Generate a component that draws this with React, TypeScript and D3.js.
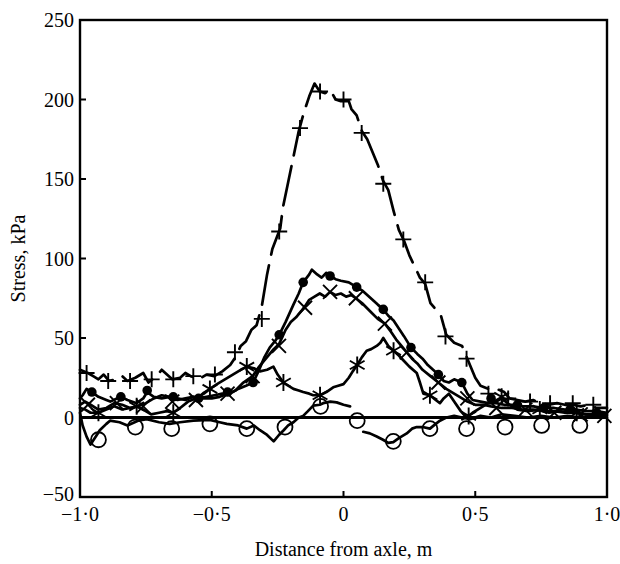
import React from 'react';
import * as d3 from 'd3';

type Pt = [number, number];

// axis ticks
const yTicks = [-50, 0, 50, 100, 150, 200, 250];
const yTickLabels = ['−50', '0', '50', '100', '150', '200', '250'];
const xTicks = [-1, -0.5, 0, 0.5, 1];
const xTickLabels = ['−1·0', '−0·5', '0', '0·5', '1·0'];

// "+" series (dashed trace)
const plusLine: Pt[] = [
  [-1.0, 30], [-0.97, 28], [-0.95, 26], [-0.93, 24], [-0.91, 27], [-0.89, 23], [-0.86, 24], [-0.84, 26],
  [-0.82, 23], [-0.79, 25], [-0.76, 28], [-0.74, 22], [-0.71, 26], [-0.69, 30], [-0.67, 27], [-0.65, 24],
  [-0.62, 25], [-0.6, 28], [-0.58, 26], [-0.55, 24], [-0.52, 27], [-0.49, 26], [-0.46, 29], [-0.43, 33],
  [-0.41, 38], [-0.39, 45], [-0.37, 48], [-0.35, 55], [-0.33, 58], [-0.31, 70], [-0.29, 90], [-0.27, 106],
  [-0.24, 119], [-0.23, 132], [-0.21, 148], [-0.19, 164], [-0.17, 180], [-0.15, 192], [-0.13, 202],
  [-0.11, 210], [-0.09, 205], [-0.07, 204], [-0.05, 206], [-0.03, 200], [-0.01, 199], [0.02, 199],
  [0.03, 194], [0.05, 190], [0.07, 180], [0.09, 175], [0.11, 167], [0.13, 159], [0.15, 149], [0.17, 143],
  [0.19, 130], [0.21, 118], [0.23, 111], [0.25, 102], [0.27, 95], [0.29, 88], [0.31, 84], [0.33, 72],
  [0.35, 68], [0.37, 64], [0.39, 52], [0.42, 47], [0.45, 45], [0.47, 37], [0.5, 25], [0.52, 20],
  [0.55, 18], [0.58, 18], [0.61, 16], [0.63, 12], [0.66, 11], [0.69, 10], [0.72, 11], [0.75, 9],
  [0.78, 8], [0.81, 9], [0.84, 8], [0.87, 8], [0.9, 7], [0.93, 8], [0.96, 6], [1.0, 6],
];
const plusPts: Pt[] = [
  [-0.975, 28], [-0.893, 23], [-0.81, 23], [-0.728, 24], [-0.646, 24], [-0.57, 26], [-0.488, 27],
  [-0.412, 41], [-0.31, 62], [-0.244, 117], [-0.165, 182], [-0.089, 205], [0.0, 200], [0.069, 179],
  [0.151, 147], [0.227, 112], [0.31, 85], [0.387, 51], [0.467, 37], [0.55, 15], [0.625, 12],
  [0.708, 10], [0.784, 9], [0.87, 9], [0.948, 8],
];

// filled dot series
const dotLine: Pt[] = [
  [-1.0, 12], [-0.99, 14], [-0.975, 18], [-0.955, 16], [-0.93, 13], [-0.9, 11], [-0.885, 10], [-0.86, 12],
  [-0.845, 13], [-0.82, 11], [-0.785, 9], [-0.76, 12], [-0.745, 16], [-0.72, 13], [-0.69, 12], [-0.66, 13],
  [-0.63, 12], [-0.6, 11], [-0.57, 13], [-0.55, 12], [-0.52, 13], [-0.49, 14], [-0.46, 15], [-0.43, 15],
  [-0.4, 18], [-0.37, 20], [-0.343, 22], [-0.32, 30], [-0.3, 38], [-0.28, 44], [-0.26, 48], [-0.244, 52],
  [-0.22, 60], [-0.19, 71], [-0.17, 78], [-0.153, 85], [-0.13, 90], [-0.12, 93], [-0.1, 90], [-0.083, 88],
  [-0.065, 91], [-0.05, 89], [-0.03, 87], [-0.01, 86], [0.02, 85], [0.05, 82], [0.07, 80], [0.09, 77],
  [0.11, 74], [0.13, 71], [0.151, 68], [0.17, 64], [0.19, 61], [0.21, 56], [0.23, 51], [0.256, 44],
  [0.28, 40], [0.3, 37], [0.32, 33], [0.34, 30], [0.36, 27], [0.38, 23], [0.4, 22], [0.42, 24],
  [0.449, 22], [0.47, 15], [0.49, 11], [0.52, 10], [0.55, 9], [0.58, 9], [0.61, 8], [0.65, 8],
  [0.68, 7], [0.72, 7], [0.76, 6], [0.8, 6], [0.84, 5], [0.88, 5], [0.92, 4], [0.96, 4], [1.0, 3],
];
const dotPts: Pt[] = [
  [-0.955, 16], [-0.845, 13], [-0.745, 17], [-0.646, 13], [-0.55, 12], [-0.44, 16], [-0.343, 22],
  [-0.244, 52], [-0.153, 85], [-0.051, 89], [0.05, 82], [0.151, 68], [0.256, 44], [0.36, 27],
  [0.449, 22], [0.56, 12], [0.66, 8], [0.76, 6], [0.86, 5], [0.96, 3],
];

// "x" series
const crossLine: Pt[] = [
  [-1.0, 8], [-0.98, 10], [-0.96, 8], [-0.93, 5], [-0.9, 6], [-0.87, 9], [-0.84, 8], [-0.81, 6],
  [-0.78, 7], [-0.75, 9], [-0.72, 12], [-0.69, 14], [-0.66, 13], [-0.63, 11], [-0.6, 12], [-0.57, 13],
  [-0.54, 12], [-0.5, 12], [-0.47, 13], [-0.44, 15], [-0.41, 17], [-0.38, 22], [-0.345, 26], [-0.32, 32],
  [-0.29, 38], [-0.265, 43], [-0.245, 46], [-0.22, 55], [-0.2, 60], [-0.18, 63], [-0.16, 67], [-0.146, 70],
  [-0.13, 74], [-0.11, 76], [-0.09, 78], [-0.07, 76], [-0.051, 79], [-0.03, 77], [-0.01, 78], [0.01, 76],
  [0.03, 77], [0.047, 75], [0.07, 72], [0.1, 67], [0.13, 62], [0.157, 59], [0.18, 54], [0.2, 49],
  [0.22, 45], [0.24, 41], [0.26, 37], [0.28, 34], [0.3, 30], [0.33, 26], [0.36, 22], [0.39, 18],
  [0.42, 15], [0.45, 12], [0.47, 10], [0.5, 8], [0.53, 8], [0.56, 7], [0.6, 6], [0.64, 6], [0.68, 5],
  [0.72, 5], [0.76, 4], [0.8, 4], [0.84, 3], [0.88, 3], [0.92, 2], [0.96, 2], [1.0, 2],
];
const crossPts: Pt[] = [
  [-0.97, 8], [-0.86, 9], [-0.76, 7], [-0.65, 10], [-0.56, 11], [-0.44, 15], [-0.345, 26], [-0.245, 45],
  [-0.146, 69], [-0.051, 79], [0.047, 75], [0.157, 59], [0.24, 41], [0.36, 22], [0.47, 12], [0.58, 6],
  [0.69, 5], [0.8, 3], [0.9, 2], [0.99, 1],
];

// asterisk series
const starLine: Pt[] = [
  [-1.0, 6], [-0.98, 5], [-0.96, 3], [-0.93, 3], [-0.9, 5], [-0.87, 7], [-0.84, 5], [-0.81, 6],
  [-0.785, 7], [-0.76, 5], [-0.73, 2], [-0.7, 3], [-0.67, 4], [-0.646, 3], [-0.62, 6], [-0.59, 10],
  [-0.56, 12], [-0.53, 15], [-0.507, 18], [-0.48, 21], [-0.45, 24], [-0.42, 27], [-0.39, 30], [-0.367, 32],
  [-0.34, 31], [-0.317, 29], [-0.29, 30], [-0.266, 32], [-0.25, 27], [-0.228, 22], [-0.21, 20], [-0.19, 18],
  [-0.17, 17], [-0.153, 16], [-0.13, 15], [-0.115, 14], [-0.089, 14], [-0.065, 16], [-0.039, 19], [-0.02, 20],
  [0.0, 21], [0.02, 25], [0.035, 29], [0.052, 33], [0.07, 38], [0.088, 42], [0.105, 43], [0.126, 45],
  [0.14, 47], [0.151, 50], [0.17, 45], [0.19, 42], [0.21, 39], [0.227, 36], [0.25, 32], [0.278, 28],
  [0.29, 22], [0.303, 15], [0.328, 14], [0.35, 11], [0.366, 9], [0.38, 12], [0.4, 15], [0.42, 10],
  [0.445, 4], [0.467, 0], [0.49, 3], [0.52, 6], [0.55, 9], [0.58, 10], [0.6, 12], [0.63, 8], [0.66, 5],
  [0.7, 4], [0.745, 5], [0.78, 3], [0.82, 4], [0.86, 3], [0.885, 3], [0.92, 2], [0.96, 2], [1.0, 1],
];
const starPts: Pt[] = [
  [-0.93, 3], [-0.785, 7], [-0.646, 3], [-0.507, 18], [-0.367, 32], [-0.228, 22], [-0.089, 14],
  [0.052, 33], [0.19, 42], [0.328, 14], [0.475, 1], [0.6, 13], [0.745, 5], [0.885, 3],
];

// open circle series (NaN = break in the trace)
const ringLine: Pt[] = [
  [-1.0, 3], [-0.99, -5], [-0.975, -12], [-0.96, -17], [-0.94, -12], [-0.925, -8], [-0.9, -4], [-0.886, -2],
  [-0.85, -3], [-0.82, -5], [-0.78, -2], [-0.747, -1], [-0.7, -3], [-0.66, -4], [-0.62, -3], [-0.57, -2],
  [-0.507, -1.5], [-0.47, -3], [-0.443, -4], [-0.4, -5], [-0.367, -7], [-0.34, -5], [-0.317, -8],
  [-0.29, -11], [-0.265, -15], [-0.245, -11], [-0.227, -8], [-0.21, -5], [-0.19, -3], [-0.17, 0],
  [-0.153, 1], [-0.135, 4], [-0.115, 7.5], [-0.09, 8], [-0.077, 9], [-0.05, 10], [-0.026, 9.5], [0.0, 8],
  [0.025, 7], [0.05, NaN], [0.075, -9], [0.1, -10], [0.126, -12], [0.15, -14], [0.17, -16], [0.189, -15.5],
  [0.21, -13], [0.24, -10], [0.26, -7], [0.278, -6], [0.3, -6], [0.328, -7], [0.35, -4], [0.366, -2],
  [0.39, 0], [0.42, 1], [0.45, 0], [0.48, -1], [0.52, 1], [0.56, 0], [0.6, 2], [0.65, 1], [0.7, 0],
  [0.75, 1], [0.8, 0], [0.85, 1], [0.9, 0], [0.95, 1], [1.0, 0],
];
const ringPts: Pt[] = [
  [-0.93, -14], [-0.79, -6], [-0.652, -7], [-0.507, -4], [-0.367, -7], [-0.222, -6], [-0.087, 7],
  [0.052, -2], [0.189, -15], [0.328, -7], [0.467, -7], [0.613, -6], [0.752, -5], [0.897, -5],
];

const W = 620;
const H = 564;
const left = 80;
const right = 607;
const top = 20;
const bottom = 497;
const font = '"Liberation Serif", "Times New Roman", serif';

export default function App() {
  const x = d3.scaleLinear().domain([-1, 1]).range([left, right]);
  const y = d3.scaleLinear().domain([-50, 250]).range([bottom, top]);

  const line = d3
    .line<Pt>()
    .defined((d) => !isNaN(d[1]))
    .x((d) => x(d[0]))
    .y((d) => y(d[1]))
    .curve(d3.curveLinear);

  const traceStyle = {
    fill: 'none',
    stroke: '#000',
    strokeWidth: 2.7,
    strokeLinejoin: 'round' as const,
    strokeLinecap: 'round' as const,
  };

  const plusPath = (d: Pt) => {
    const cx = x(d[0]), cy = y(d[1]), r = 8;
    return `M${cx - r},${cy}H${cx + r}M${cx},${cy - r}V${cy + r}`;
  };
  const crossPath = (d: Pt) => {
    const cx = x(d[0]), cy = y(d[1]), r = 7;
    return `M${cx - r},${cy - r}L${cx + r},${cy + r}M${cx - r},${cy + r}L${cx + r},${cy - r}`;
  };
  const starPath = (d: Pt) => {
    const cx = x(d[0]), cy = y(d[1]), r = 8.5;
    return [90, 30, 150]
      .map((a) => {
        const dx = r * Math.cos((a * Math.PI) / 180);
        const dy = r * Math.sin((a * Math.PI) / 180);
        return `M${cx - dx},${cy - dy}L${cx + dx},${cy + dy}`;
      })
      .join('');
  };

  return (
    <svg
      width={W}
      height={H}
      style={{ position: 'absolute', left: 0, top: 0, background: '#fff' }}
      fontFamily={font}
    >
      <rect x={0} y={0} width={W} height={H} fill="#fff" />

      {/* traces */}
      <path d={line(plusLine) || ''} {...traceStyle} strokeDasharray="40 11" />
      <path d={line(dotLine) || ''} {...traceStyle} />
      <path d={line(crossLine) || ''} {...traceStyle} />
      <path d={line(starLine) || ''} {...traceStyle} />
      <path d={line(ringLine) || ''} {...traceStyle} />

      {/* zero line */}
      <line x1={left} x2={right} y1={y(0)} y2={y(0)} stroke="#000" strokeWidth={2.8} />

      {/* markers */}
      {plusPts.map((d, i) => (
        <path key={'p' + i} d={plusPath(d)} stroke="#000" strokeWidth={1.9} fill="none" />
      ))}
      {dotPts.map((d, i) => (
        <circle key={'d' + i} cx={x(d[0])} cy={y(d[1])} r={4.8} fill="#000" />
      ))}
      {crossPts.map((d, i) => (
        <path key={'c' + i} d={crossPath(d)} stroke="#000" strokeWidth={1.9} fill="none" />
      ))}
      {starPts.map((d, i) => (
        <path key={'s' + i} d={starPath(d)} stroke="#000" strokeWidth={1.9} fill="none" />
      ))}
      {ringPts.map((d, i) => (
        <circle key={'r' + i} cx={x(d[0])} cy={y(d[1])} r={7.5} fill="none" stroke="#000" strokeWidth={1.8} />
      ))}

      {/* frame */}
      <rect x={left} y={top} width={right - left} height={bottom - top} fill="none" stroke="#000" strokeWidth={2.4} />

      {/* y ticks */}
      {yTicks.map((t, i) => (
        <g key={'yt' + t}>
          <line x1={left} x2={left + 6} y1={y(t)} y2={y(t)} stroke="#000" strokeWidth={2} />
          <text x={left - 6} y={t === -50 ? y(t) - 3 : y(t)} dy="0.35em" textAnchor="end" fontSize={20}>
            {yTickLabels[i]}
          </text>
        </g>
      ))}

      {/* x ticks */}
      {xTicks.map((t, i) => (
        <g key={'xt' + t}>
          <line x1={x(t)} x2={x(t)} y1={bottom} y2={bottom - 6} stroke="#000" strokeWidth={2} />
          <text x={x(t)} y={bottom + 24} textAnchor="middle" fontSize={20}>
            {xTickLabels[i]}
          </text>
        </g>
      ))}

      {/* axis titles */}
      <text x={(left + right) / 2} y={556} textAnchor="middle" fontSize={20}>
        Distance from axle, m
      </text>
      <text
        transform={`translate(25, ${(top + bottom) / 2}) rotate(-90)`}
        textAnchor="middle"
        fontSize={20}
      >
        Stress, kPa
      </text>
    </svg>
  );
}
